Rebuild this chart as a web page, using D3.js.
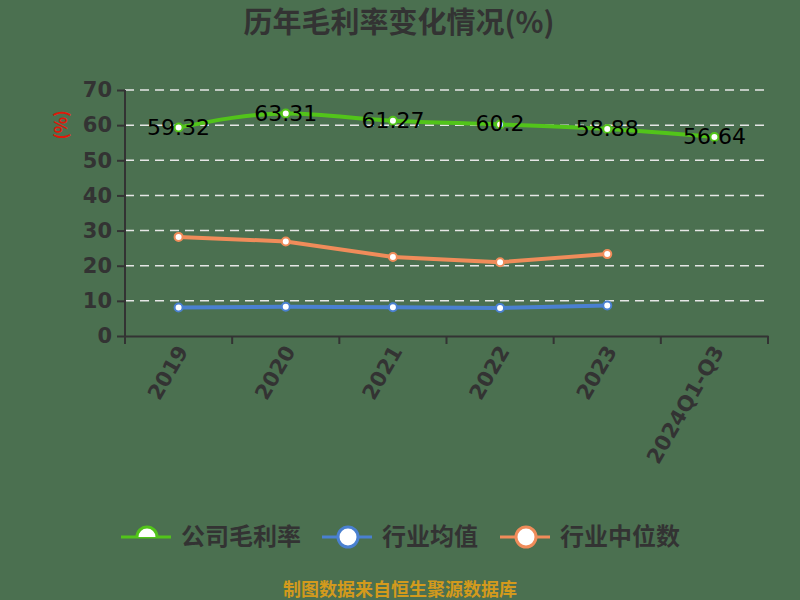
<!DOCTYPE html>
<html>
<head>
<meta charset="utf-8">
<script src="https://cdn.jsdelivr.net/npm/d3@7"></script>
<style>
  html, body { margin: 0; padding: 0; background: #4b7050; }
  svg { display: block; font-family: "Noto Sans CJK SC", "DejaVu Sans", sans-serif; }
</style>
</head>
<body>
<svg id="chart" width="800" height="600"></svg>
<script>
'use strict';

const years       = ['2019', '2020', '2021', '2022', '2023', '2024Q1-Q3']
const companyRate = [59.32, 63.31, 61.27, 60.2, 58.88, 56.64]
const industryAvg = [8.1, 8.3, 8.2, 8.0, 8.7]
const industryMed = [28.2, 26.9, 22.5, 21.0, 23.3]
const yTicks      = [0, 10, 20, 30, 40, 50, 60, 70]

const series = [
  { name: '公司毛利率', values: companyRate, color: '#52c41a', curve: d3.curveMonotoneX },
  { name: '行业均值',   values: industryAvg, color: '#4a80d0', curve: d3.curveLinear },
  { name: '行业中位数', values: industryMed, color: '#f08c5a', curve: d3.curveLinear }
]

const svg = d3.select('#chart')
const plot = { left: 125, right: 768, top: 90, bottom: 336 }

const x = d3.scaleBand().domain(years).range([plot.left, plot.right])
const y = d3.scaleLinear().domain([0, 70]).range([plot.bottom, plot.top])
const cx = (i) => x(years[i]) + x.bandwidth() / 2

// title
svg.append('text')
  .attr('x', 399).attr('y', 33)
  .attr('text-anchor', 'middle')
  .attr('font-size', 29).attr('font-weight', 'bold')
  .attr('fill', '#333')
  .text('历年毛利率变化情况(%)')

// gridlines
svg.append('g')
  .selectAll('line')
  .data(yTicks.filter((t) => t > 0))
  .enter()
  .append('line')
    .attr('x1', plot.left).attr('x2', plot.right)
    .attr('y1', (t) => y(t)).attr('y2', (t) => y(t))
    .attr('stroke', '#e6e6e6').attr('stroke-width', 1.5)
    .attr('stroke-dasharray', '9,6')

// y axis
const yAxis = svg.append('g')
  .attr('transform', `translate(${plot.left},0)`)
  .call(d3.axisLeft(y).tickValues(yTicks).tickSize(8).tickPadding(5))
yAxis.selectAll('path, line').attr('stroke', '#333').attr('stroke-width', 2)
yAxis.select('.domain').attr('d', `M0,${plot.top}V${plot.bottom}`)
yAxis.selectAll('text')
  .attr('font-size', 21).attr('font-weight', 'bold').attr('fill', '#333')
  .attr('font-family', '"DejaVu Sans", sans-serif')

// y unit label
svg.append('text')
  .attr('transform', 'translate(62,125) rotate(-90)')
  .attr('text-anchor', 'middle')
  .attr('dominant-baseline', 'middle')
  .attr('font-size', 17).attr('font-weight', 'bold').attr('fill', '#e0180a')
  .text('(%)')

// x axis
const xAxis = svg.append('g')
  .attr('transform', `translate(0,${plot.bottom})`)
  .call(d3.axisBottom(x).tickSize(0).tickFormat(''))
xAxis.select('.domain').attr('stroke', '#333').attr('stroke-width', 2)
xAxis.append('g')
  .selectAll('line')
  .data(d3.range(years.length + 1))
  .enter()
  .append('line')
    .attr('x1', (i) => plot.left + i * x.bandwidth())
    .attr('x2', (i) => plot.left + i * x.bandwidth())
    .attr('y1', 0).attr('y2', 8)
    .attr('stroke', '#333').attr('stroke-width', 2)
xAxis.append('g')
  .selectAll('text')
  .data(years)
  .enter()
  .append('text')
    .attr('transform', (d, i) => `translate(${cx(i) + 5},${12}) rotate(-60)`)
    .attr('text-anchor', 'end')
    .attr('dominant-baseline', 'middle')
    .attr('font-size', 21).attr('font-weight', 'bold').attr('fill', '#333')
    .attr('font-family', '"DejaVu Sans", sans-serif')
    .text((d) => d)

// lines
series.slice().reverse().forEach((s) => {
  const line = d3.line()
    .x((d, i) => cx(i))
    .y((d) => y(d))
    .curve(s.curve)

  svg.append('path')
    .datum(s.values)
    .attr('fill', 'none')
    .attr('stroke', s.color)
    .attr('stroke-width', 4)
    .attr('d', line)

  svg.append('g')
    .selectAll('circle')
    .data(s.values)
    .enter()
    .append('circle')
      .attr('cx', (d, i) => cx(i))
      .attr('cy', (d) => y(d))
      .attr('r', 4)
      .attr('fill', '#fff')
      .attr('stroke', s.color)
      .attr('stroke-width', 2)
})

// value labels for company line
svg.append('g')
  .selectAll('text')
  .data(companyRate)
  .enter()
  .append('text')
    .attr('x', (d, i) => cx(i))
    .attr('y', (d) => y(d) + 1)
    .attr('text-anchor', 'middle')
    .attr('dominant-baseline', 'middle')
    .attr('font-size', 22).attr('fill', '#000')
    .attr('font-family', '"DejaVu Sans", sans-serif')
    .text((d) => d)

// legend (the first marker shows only its upper half in the original)
svg.append('clipPath')
  .attr('id', 'halfClip')
  .append('rect')
    .attr('x', -20).attr('y', -20).attr('width', 40).attr('height', 20)

const legendX = [121, 322, 500]
const legend = svg.append('g')
  .selectAll('g')
  .data(series)
  .enter()
  .append('g')
    .attr('transform', (s, i) => `translate(${legendX[i]},537)`)
legend.append('line')
  .attr('x1', 0).attr('x2', 50)
  .attr('stroke', (s) => s.color).attr('stroke-width', 3)
legend.append('g')
  .attr('transform', 'translate(26,0)')
  .append('circle')
    .attr('r', 10)
    .attr('clip-path', (s, i) => i === 0 ? 'url(#halfClip)' : null)
    .attr('fill', '#fff')
    .attr('stroke', (s) => s.color).attr('stroke-width', 3)
legend.append('text')
  .attr('x', 60).attr('y', 1)
  .attr('dominant-baseline', 'middle')
  .attr('font-size', 24).attr('font-weight', 'bold').attr('fill', '#333')
  .text((s) => s.name)

// footer
svg.append('text')
  .attr('x', 400).attr('y', 596)
  .attr('text-anchor', 'middle')
  .attr('font-size', 18).attr('font-weight', 'bold').attr('fill', '#d39a1c')
  .text('制图数据来自恒生聚源数据库')
</script>
</body>
</html>
